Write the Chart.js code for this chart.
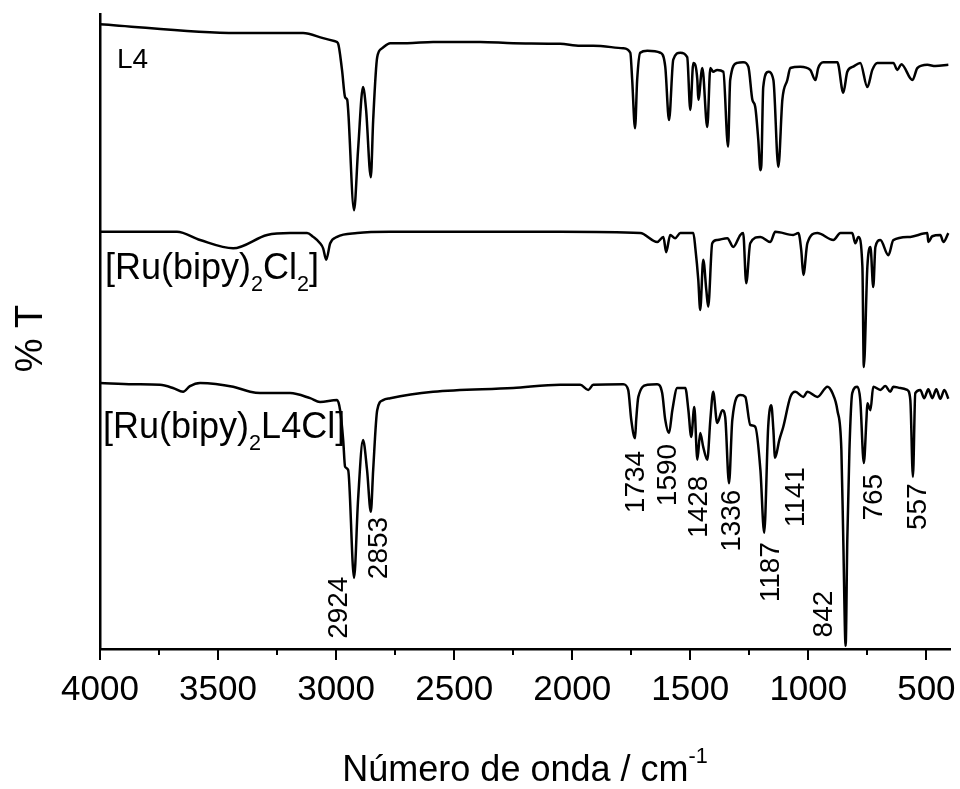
<!DOCTYPE html>
<html>
<head>
<meta charset="utf-8">
<script src="https://cdn.jsdelivr.net/npm/chart.js@4/dist/chart.umd.min.js"></script>
<style>
  html, body { margin: 0; padding: 0; background: #fff; }
  #wrap { width: 960px; height: 789px; }
</style>
</head>
<body>
<div id="wrap"><canvas id="ir" width="960" height="789"></canvas></div>
<script>
// FTIR spectra (wavenumber in cm^-1, transmittance offset per trace)

// Ligand L4
const wnL4 = [4000,3420,3140,3055,3004,2992,2975,2962,2953,2949,2924,2907,2886,2873,2853,2843,2826,2805,2771,2699,2589,2390,2250,2051,1966,1911,1784,1754,1746,1734,1725,1712,1682,1627,1606,1590,1572,1542,1513,1500,1487,1470,1466,1449,1428,1415,1403,1386,1360,1340,1331,1301,1276,1254,1237,1225,1212,1203,1199,1191,1170,1148,1127,1110,1089,1076,1034,992,970,958,937,877,852,835,810,780,750,729,708,640,623,606,559,538,496,462,407];
const tL4 = [98.4,97.0,97.0,96.2,95.7,95.4,91.2,86.9,86.5,84.9,69.1,78.6,88.5,84.9,74.3,83.3,93.2,94.6,95.4,95.4,95.6,95.6,95.4,95.3,95.0,95.0,94.6,93.9,89.6,82.0,89.6,93.9,94.2,93.9,91.7,83.3,92.8,93.9,93.2,84.9,92.3,89.6,86.5,91.5,82.2,91.5,90.9,91.2,90.9,79.1,89.6,92.3,92.4,91.7,86.5,85.4,80.2,75.4,76.2,88.5,90.9,89.6,75.9,86.5,89.6,91.5,91.7,91.2,89.6,91.5,92.4,92.4,87.6,90.9,91.7,92.3,88.5,91.2,92.3,92.3,91.2,92.1,89.6,91.5,92.0,91.8,92.0];

// [Ru(bipy)2Cl2]
const wnCl2 = [4000,3674,3576,3436,3292,3195,3123,3097,3068,3055,3042,3025,2996,2911,2771,2390,2051,1712,1640,1614,1602,1585,1564,1542,1487,1479,1466,1458,1445,1432,1424,1407,1386,1343,1318,1288,1276,1263,1246,1203,1161,1140,1064,1042,1030,1021,1004,962,894,864,814,801,788,771,765,750,737,725,716,695,661,640,568,496,492,475,441,428,407];
const tCl2 = [65.7,65.7,64.4,63.1,65.2,65.5,65.5,64.9,63.9,63.1,61.3,63.9,64.9,65.5,65.7,65.7,65.7,65.5,64.1,64.9,62.5,65.2,64.7,65.5,65.5,63.3,58.1,53.4,61.3,56.5,53.9,63.9,64.4,64.7,63.3,65.2,65.5,57.6,63.9,64.9,64.1,65.7,65.2,65.5,62.8,58.9,63.9,65.5,64.4,65.5,65.5,63.9,64.9,60.2,44.4,60.2,63.3,57.0,63.3,64.4,62.0,64.4,64.9,65.5,64.1,65.0,65.2,64.1,65.5];

// [Ru(bipy)2L4Cl]
const wnCx = [4000,3860,3746,3691,3648,3619,3576,3436,3364,3322,3195,3110,3068,2996,2983,2970,2962,2949,2924,2907,2886,2869,2853,2843,2826,2801,2771,2589,2250,2051,1966,1932,1911,1784,1763,1750,1734,1729,1720,1682,1640,1619,1606,1590,1576,1555,1521,1508,1496,1483,1470,1458,1445,1428,1415,1403,1386,1364,1352,1336,1322,1288,1267,1246,1225,1203,1187,1170,1157,1148,1141,1123,1106,1076,1055,1021,1004,962,919,898,877,860,852,842,835,826,814,792,780,765,754,750,737,725,695,674,653,640,610,581,568,557,547,526,509,492,475,458,441,424,407];
const tCx = [41.9,41.7,41.6,41.1,40.5,41.4,41.9,41.3,40.5,40.3,40.3,39.5,38.9,39.2,37.6,32.9,28.7,28.2,11.2,23.5,32.9,28.2,21.6,28.2,37.6,39.2,39.5,40.5,41.1,41.6,41.6,40.8,41.6,41.7,40.8,36.1,33.2,36.1,39.7,41.6,41.7,40.3,36.1,34.0,37.6,41.1,41.1,37.6,33.4,38.1,29.8,34.0,31.8,29.8,36.1,40.5,35.6,37.6,36.5,26.1,36.1,40.0,39.7,35.3,35.0,28.2,18.3,35.0,38.4,34.5,30.1,32.9,35.0,39.7,40.5,39.7,40.5,39.7,41.3,40.3,37.6,31.3,17.2,0.5,17.2,31.3,40.3,41.3,39.2,29.3,36.1,38.7,37.6,41.3,40.8,41.4,40.5,41.3,41.1,40.8,39.2,27.1,40.3,40.8,39.5,40.9,39.5,40.9,39.4,40.8,39.4];

// Assigned bands of the complex and where their labels sit (wavenumber, %T)
const peakWn = [2924, 2853, 1734, 1590, 1428, 1336, 1187, 1141, 842, 765, 557];
const peakLabelWn = [2992, 2822, 1733, 1598, 1466, 1326, 1161, 1055, 937, 725, 538];
const peakLabelT = [6.5, 15.9, 26.3, 27.4, 22.4, 20.2, 12.1, 23.9, 5.5, 23.9, 22.4];

// Axis ticks
const majorTicks = [4000, 3500, 3000, 2500, 2000, 1500, 1000, 500];
const minorTicks = [3750, 3250, 2750, 2250, 1750, 1250, 750];

const FONT = '"Liberation Sans", Arial, Helvetica, sans-serif';
const INK = '#000';

function pts(xs, ys) { return xs.map((x, i) => ({ x, y: ys[i] })); }

function partsWidth(ctx, parts, size) {
  let w = 0;
  for (const p of parts) {
    const s = (p.sub || p.sup) ? size * 0.6 : size;
    ctx.font = `${s}px ${FONT}`;
    w += ctx.measureText(p.t).width;
  }
  return w;
}
function drawParts(ctx, x, y, parts, size) {
  let cx = x;
  ctx.textAlign = 'left';
  ctx.textBaseline = 'alphabetic';
  for (const p of parts) {
    const s = (p.sub || p.sup) ? size * 0.6 : size;
    ctx.font = `${s}px ${FONT}`;
    const dy = p.sub ? size * 0.33 : (p.sup ? -size * 0.5 : 0);
    ctx.fillText(p.t, cx, y + dy);
    cx += ctx.measureText(p.t).width;
  }
}

const traceNames = [
  { wn: 3928, t: 91.5, size: 28, parts: [{ t: 'L4' }] },
  { wn: 3979, t: 58.2, size: 36, parts: [{ t: '[Ru(bipy)' }, { t: '2', sub: true }, { t: 'Cl' }, { t: '2', sub: true }, { t: ']' }] },
  { wn: 3987, t: 33.2, size: 36, parts: [{ t: '[Ru(bipy)' }, { t: '2', sub: true }, { t: 'L4Cl]' }] }
];

const decorations = {
  id: 'decorations',
  afterDraw(chart) {
    const { ctx, chartArea, scales } = chart;
    const xs = scales.x, ys = scales.y;
    ctx.save();
    ctx.fillStyle = INK;
    ctx.strokeStyle = '#000';

    // tick marks below the x axis
    const base = chartArea.bottom;
    ctx.lineWidth = 2;
    ctx.beginPath();
    for (const v of majorTicks) {
      const px = Math.round(xs.getPixelForValue(v));
      ctx.moveTo(px, base); ctx.lineTo(px, base + 11);
    }
    for (const v of minorTicks) {
      const px = Math.round(xs.getPixelForValue(v));
      ctx.moveTo(px, base); ctx.lineTo(px, base + 6);
    }
    ctx.stroke();

    // tick labels
    ctx.font = `35px ${FONT}`;
    ctx.textAlign = 'center';
    ctx.textBaseline = 'alphabetic';
    for (const v of majorTicks) {
      ctx.fillText(String(v), xs.getPixelForValue(v), base + 51);
    }

    // x-axis title
    const title = [{ t: 'Número de onda / cm' }, { t: '-1', sup: true }];
    const tw = partsWidth(ctx, title, 36);
    drawParts(ctx, (chartArea.left + chartArea.right) / 2 - tw / 2, 781, title, 36);

    // y-axis title
    ctx.save();
    ctx.translate(42, (chartArea.top + chartArea.bottom) / 2 + 7);
    ctx.rotate(-Math.PI / 2);
    ctx.font = `38px ${FONT}`;
    ctx.textAlign = 'center';
    ctx.textBaseline = 'alphabetic';
    ctx.fillText('% T', 0, 0);
    ctx.restore();

    // trace names
    for (const n of traceNames) {
      drawParts(ctx, xs.getPixelForValue(n.wn), ys.getPixelForValue(n.t), n.parts, n.size);
    }

    // band labels, rotated
    ctx.font = `28px ${FONT}`;
    ctx.textAlign = 'center';
    ctx.textBaseline = 'middle';
    peakWn.forEach((w, i) => {
      ctx.save();
      ctx.translate(xs.getPixelForValue(peakLabelWn[i]), ys.getPixelForValue(peakLabelT[i]));
      ctx.rotate(-Math.PI / 2);
      ctx.fillText(String(w), 0, 1);
      ctx.restore();
    });
    ctx.restore();
  }
};

const lineStyle = {
  borderColor: '#000', borderWidth: 2.5, pointRadius: 0,
  cubicInterpolationMode: 'monotone', borderJoinStyle: 'round', fill: false
};

new Chart(document.getElementById('ir'), {
  type: 'line',
  data: {
    datasets: [
      { label: 'L4', data: pts(wnL4, tL4), ...lineStyle },
      { label: '[Ru(bipy)2Cl2]', data: pts(wnCl2, tCl2), ...lineStyle },
      { label: '[Ru(bipy)2L4Cl]', data: pts(wnCx, tCx), ...lineStyle }
    ]
  },
  options: {
    responsive: false,
    animation: false,
    devicePixelRatio: 1,
    layout: { padding: { top: 14, right: 10, left: 0, bottom: 0 } },
    plugins: { legend: { display: false }, tooltip: { enabled: false } },
    scales: {
      x: {
        type: 'linear',
        reverse: true,
        min: 400,
        max: 4000,
        grid: { display: false },
        border: { display: true, color: '#000', width: 2.5 },
        ticks: { display: false },
        afterFit(s) { s.height = 140; }
      },
      y: {
        type: 'linear',
        min: 0,
        max: 100,
        grid: { display: false },
        border: { display: true, color: '#000', width: 2.5 },
        ticks: { display: false },
        afterFit(s) { s.width = 100; }
      }
    }
  },
  plugins: [decorations]
});
</script>
</body>
</html>
